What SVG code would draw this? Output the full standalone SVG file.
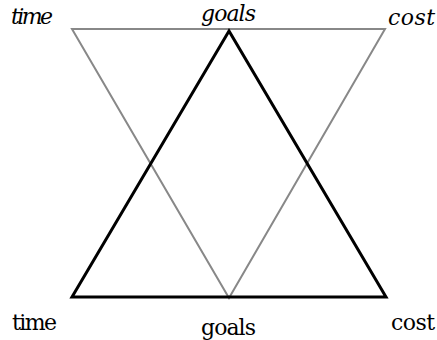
<svg xmlns="http://www.w3.org/2000/svg" width="437" height="340" viewBox="0 0 437 340">
<style>
text{font-family:'DejaVu Serif','Liberation Serif',serif;font-size:22px;fill:#000}
.i{font-style:italic}
.g{fill:none;stroke:#888;stroke-width:2;stroke-linejoin:miter}
.b{fill:none;stroke:#000;stroke-width:3;stroke-linejoin:miter}
</style>
<rect width="437" height="340" fill="#fff"/>
<g id="connectors">
<polygon id="gray-triangle" class="g" points="72,29 385,29 229,298"/>
<polygon id="black-triangle" class="b" points="229,31 72,297 386,297"/>
</g>
<g id="top-time"><text class="i" x="11" y="24" textLength="42">time</text></g>
<g id="top-goals"><text class="i" x="201" y="21" textLength="55">goals</text></g>
<g id="top-cost"><text class="i" x="388" y="25" textLength="47">cost</text></g>
<g id="bottom-time"><text x="12" y="330" textLength="45">time</text></g>
<g id="bottom-goals"><text x="201" y="335" textLength="55">goals</text></g>
<g id="bottom-cost"><text x="391" y="330" textLength="44">cost</text></g>
</svg>
